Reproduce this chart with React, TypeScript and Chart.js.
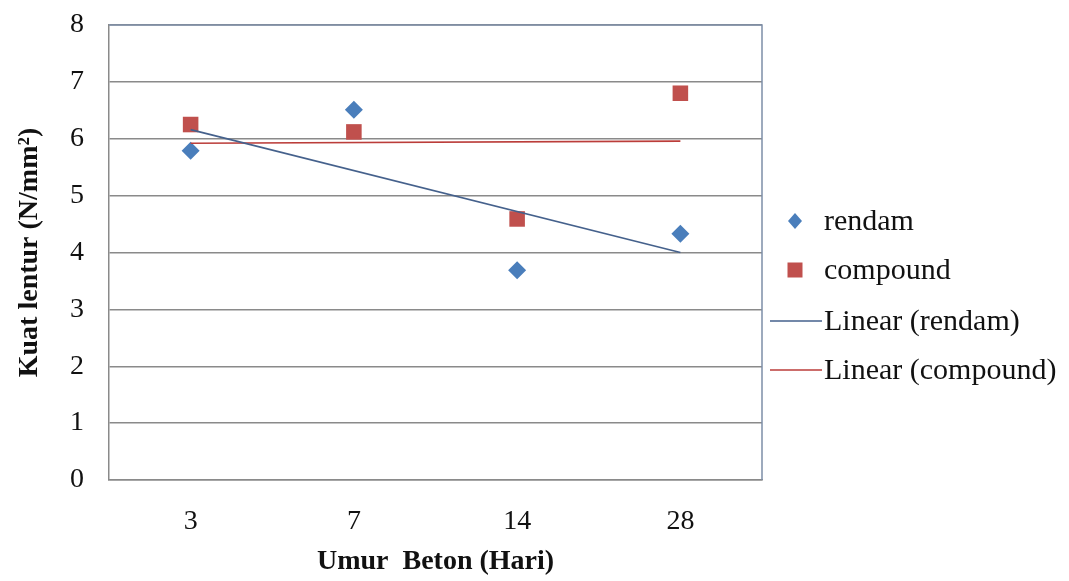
import React, { useEffect, useRef } from "react";
import { Chart, registerables } from "chart.js";

Chart.register(...registerables);

// Curing age categories (days) and flexural strength readings (N/mm²)
const ages: string[] = ["3", "7", "14", "28"];
const rendam: number[] = [5.79, 6.51, 3.69, 4.33];
const compound: number[] = [6.25, 6.12, 4.59, 6.8];
const yTicks: number[] = [0, 1, 2, 3, 4, 5, 6, 7, 8];

const SERIF = '"Liberation Serif", "Times New Roman", serif';
const BLUE = "#4a7ebb";
const RED = "#c0504d";
const BLUE_TREND = "#45618c";
const RED_TREND = "#bb3d3a";
const GRID = "#8a8a8a";
const FRAME = "#7d8ea8";

// Least-squares line over category positions 1..n (as a spreadsheet trendline does)
function linearTrend(values: number[]): { x: number; y: number }[] {
  const n = values.length;
  const xs = values.map((_, i) => i + 1);
  const mx = xs.reduce((a, b) => a + b, 0) / n;
  const my = values.reduce((a, b) => a + b, 0) / n;
  let sxy = 0;
  let sxx = 0;
  xs.forEach((x, i) => {
    sxy += (x - mx) * (values[i] - my);
    sxx += (x - mx) * (x - mx);
  });
  const slope = sxy / sxx;
  const icpt = my - slope * mx;
  return [
    { x: 0, y: icpt + slope * 1 },
    { x: n - 1, y: icpt + slope * n },
  ];
}

const toPoints = (vals: number[]) => vals.map((y, i) => ({ x: i, y }));

type LegendEntry = { label: string; kind: "diamond" | "square" | "line"; color: string };
const legendEntries: LegendEntry[] = [
  { label: "rendam", kind: "diamond", color: BLUE },
  { label: "compound", kind: "square", color: RED },
  { label: "Linear (rendam)", kind: "line", color: BLUE_TREND },
  { label: "Linear (compound)", kind: "line", color: RED_TREND },
];

// Right-hand legend with spreadsheet-style marker/line keys
const sideLegend = {
  id: "sideLegend",
  afterDraw(chart: Chart) {
    const { ctx, chartArea } = chart;
    const lineX0 = chartArea.right + 8;
    const lineX1 = chartArea.right + 60;
    const markX = chartArea.right + 33;
    const textX = chartArea.right + 62;
    const rows = [221, 270, 321, 370];
    ctx.save();
    ctx.font = `30px ${SERIF}`;
    ctx.textBaseline = "middle";
    ctx.textAlign = "left";
    legendEntries.forEach((e, i) => {
      const y = rows[i];
      ctx.fillStyle = e.color;
      ctx.strokeStyle = e.color;
      if (e.kind === "diamond") {
        ctx.beginPath();
        ctx.moveTo(markX, y - 8);
        ctx.lineTo(markX + 7, y);
        ctx.lineTo(markX, y + 8);
        ctx.lineTo(markX - 7, y);
        ctx.closePath();
        ctx.fill();
      } else if (e.kind === "square") {
        ctx.fillRect(markX - 7.5, y - 7.5, 15, 15);
      } else {
        ctx.lineWidth = 1.5;
        ctx.beginPath();
        ctx.moveTo(lineX0, y);
        ctx.lineTo(lineX1, y);
        ctx.stroke();
      }
      ctx.fillStyle = "#111";
      ctx.fillText(e.label, textX, y + 1);
    });
    ctx.restore();
  },
};

// Top and right edges of the plot frame
const plotFrame = {
  id: "plotFrame",
  afterDatasetsDraw(chart: Chart) {
    const { ctx, chartArea } = chart;
    ctx.save();
    ctx.strokeStyle = FRAME;
    ctx.lineWidth = 1.5;
    ctx.beginPath();
    ctx.moveTo(chartArea.left, chartArea.top);
    ctx.lineTo(chartArea.right, chartArea.top);
    ctx.lineTo(chartArea.right, chartArea.bottom);
    ctx.stroke();
    ctx.restore();
  },
};

export default function App() {
  const canvasRef = useRef<HTMLCanvasElement | null>(null);

  useEffect(() => {
    if (!canvasRef.current) return;
    const chart = new Chart(canvasRef.current, {
      type: "scatter",
      data: {
        datasets: [
          {
            type: "line",
            label: "Linear (rendam)",
            data: linearTrend(rendam),
            borderColor: BLUE_TREND,
            borderWidth: 1.6,
            pointRadius: 0,
            fill: false,
            order: 0,
          },
          {
            type: "line",
            label: "Linear (compound)",
            data: linearTrend(compound),
            borderColor: RED_TREND,
            borderWidth: 1.6,
            pointRadius: 0,
            fill: false,
            order: 0,
          },
          {
            label: "rendam",
            data: toPoints(rendam),
            pointStyle: "rectRot",
            pointRadius: 9,
            backgroundColor: BLUE,
            borderColor: BLUE,
            borderWidth: 0,
            order: 1,
          },
          {
            label: "compound",
            data: toPoints(compound),
            pointStyle: "rect",
            pointRadius: 11,
            backgroundColor: RED,
            borderColor: RED,
            borderWidth: 0,
            order: 1,
          },
        ],
      },
      options: {
        animation: false,
        responsive: false,
        maintainAspectRatio: false,
        layout: { padding: { top: 25, right: 307, left: 0, bottom: 0 } },
        plugins: {
          legend: { display: false },
          tooltip: { enabled: false },
        },
        scales: {
          x: {
            type: "linear",
            position: "bottom",
            min: -0.5,
            max: ages.length - 0.5,
            afterBuildTicks: (s: any) => {
              s.ticks = ages.map((_, i) => ({ value: i }));
            },
            afterFit: (s: any) => {
              s.height = 101;
              s.paddingLeft = 0;
              s.paddingRight = 0;
            },
            grid: { display: false, drawTicks: false },
            border: { display: true, color: GRID, width: 1.5 },
            ticks: {
              padding: 25,
              color: "#111",
              font: { family: SERIF, size: 28 },
              callback: (v: any) => ages[Math.round(Number(v))] ?? "",
            },
            title: {
              display: true,
              text: "Umur  Beton (Hari)",
              color: "#111",
              font: { family: SERIF, size: 28, weight: "bold" },
              padding: { top: 0, bottom: 2 },
            },
          },
          y: {
            min: 0,
            max: 8,
            afterBuildTicks: (s: any) => {
              s.ticks = yTicks.map((v) => ({ value: v }));
            },
            afterFit: (s: any) => {
              s.width = 109;
              s.paddingTop = 0;
              s.paddingBottom = 0;
            },
            grid: { color: GRID, lineWidth: 1.5, drawTicks: false },
            border: { display: true, color: GRID, width: 1.5 },
            ticks: {
              padding: 25,
              color: "#111",
              font: { family: SERIF, size: 28 },
            },
            title: {
              display: true,
              text: "Kuat lentur (N/mm²)",
              color: "#111",
              font: { family: SERIF, size: 28, weight: "bold" },
              padding: { top: 13, bottom: 0 },
            },
          },
        },
      },
      plugins: [plotFrame, sideLegend],
    });
    return () => chart.destroy();
  }, []);

  return (
    <div style={{ position: "fixed", left: 0, top: 0, width: 1069, height: 581, background: "#fff" }}>
      <canvas ref={canvasRef} width={1069} height={581} style={{ display: "block" }} />
    </div>
  );
}
